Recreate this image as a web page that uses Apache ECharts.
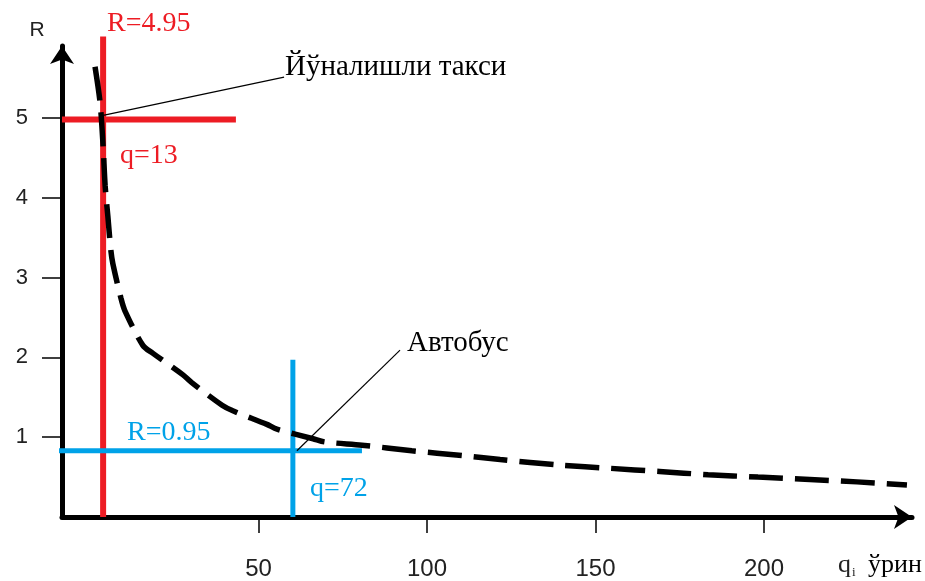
<!DOCTYPE html>
<html><head><meta charset="utf-8">
<script src="https://cdn.jsdelivr.net/npm/echarts@6/dist/echarts.min.js"></script>
<style>html,body{margin:0;padding:0;background:#fff}#c{width:925px;height:581px}</style>
</head><body><div id="c"></div>
<script>
// Curve R(q)
const curveQ = [1.5, 3.0, 3.9, 4.5, 5.3, 6.2, 6.8, 9.2, 10.4, 15.7, 18.7, 27.6, 30.3, 39.2, 42.4, 52.5, 55.5, 66.2, 69.7, 80.7, 95.5, 110.4, 121.7, 139.5, 154.3, 169, 183.4, 198.2, 213.6, 227.6, 242.4];
const curveR = [5.64, 5.19, 4.64, 4.15, 3.77, 3.34, 3.17, 2.74, 2.58, 2.15, 2.05, 1.78, 1.68, 1.40, 1.33, 1.16, 1.10, 0.98, 0.94, 0.90, 0.83, 0.77, 0.72, 0.65, 0.61, 0.57, 0.53, 0.50, 0.47, 0.44, 0.40];
const xTicks = [50, 100, 150, 200];
const yTicks = [1, 2, 3, 4, 5];
// Guide lines (as drawn)
const taxiVertical = [[3.9, 0], [3.9, 6.02]];
const taxiHorizontal = [[-8.3, 4.98], [43.3, 4.98]];
const busVertical = [[60.2, 0], [60.2, 1.97]];
const busHorizontal = [[-10.4, 0.83], [80.7, 0.83]];
const taxiLeader = [[3.9, 5.03], [57.6, 5.51]];
const busLeader = [[61.4, 0.83], [92, 2.09]];

const chart = echarts.init(document.getElementById('c'));
const RED = '#ed1c24', BLUE = '#00a2e8';
const serif = 'Liberation Serif';
function txt(t, x, y, size, color, family, align) {
  return { type: 'text', x: x, y: y, z: 100,
    style: { text: t, fontSize: size, fontFamily: family || serif, fill: color || '#000', align: align || 'left', verticalAlign: 'middle' } };
}
chart.setOption({
  animation: false,
  grid: { left: 62, right: 13, top: 46, bottom: 61 },
  xAxis: {
    type: 'value', min: -8.3, max: 243.9,
    splitLine: { show: false },
    axisLine: { show: true, onZero: false, symbol: ['none', 'arrow'], symbolSize: [18, 18], lineStyle: { color: '#000', width: 5 } },
    axisTick: { show: true, customValues: xTicks, length: 16, lineStyle: { color: '#000', width: 1.5 } },
    axisLabel: { customValues: xTicks, margin: 40, fontSize: 24, fontFamily: 'Liberation Sans', color: '#222' }
  },
  yAxis: {
    type: 'value', min: 0, max: 5.9,
    splitLine: { show: false },
    axisLine: { show: true, onZero: false, symbol: ['none', 'arrow'], symbolSize: [18, 18], lineStyle: { color: '#000', width: 5 } },
    axisTick: { show: true, customValues: yTicks, length: 20, lineStyle: { color: '#000', width: 1.5 } },
    axisLabel: { customValues: yTicks, margin: 34, fontSize: 22, fontFamily: 'Liberation Sans', color: '#222', verticalAlign: 'middle', padding: [0, 0, 16, 0] }
  },
  series: [
    { type: 'line', data: curveQ.map((q, i) => [q, curveR[i]]), showSymbol: false, smooth: 0.3, z: 3,
      lineStyle: { color: '#000', width: 5.5, type: [34, 12] } },
    { type: 'line', data: taxiVertical, showSymbol: false, clip: false, z: 2, lineStyle: { color: RED, width: 6 } },
    { type: 'line', data: taxiHorizontal, showSymbol: false, clip: false, z: 2, lineStyle: { color: RED, width: 6 } },
    { type: 'line', data: busVertical, showSymbol: false, clip: false, z: 2, lineStyle: { color: BLUE, width: 5 } },
    { type: 'line', data: busHorizontal, showSymbol: false, clip: false, z: 2, lineStyle: { color: BLUE, width: 5 } },
    { type: 'line', data: taxiLeader, showSymbol: false, clip: false, z: 4, lineStyle: { color: '#000', width: 1.2 } },
    { type: 'line', data: busLeader, showSymbol: false, clip: false, z: 4, lineStyle: { color: '#000', width: 1.2 } }
  ],
  graphic: [
    txt('R=4.95', 107, 24, 28, RED),
    txt('q=13', 120, 156, 28, RED),
    txt('Йўналишли такси', 285, 67, 29, '#000'),
    txt('Автобус', 407, 343, 29, '#000'),
    txt('R=0.95', 127, 433, 28, BLUE),
    txt('q=72', 310, 489, 28, BLUE),
    txt('R', 37, 30, 21, '#222', 'Liberation Sans', 'center'),
    txt('q', 838, 565, 26, '#222'),
    txt('i', 852, 573, 13, '#222'),
    txt('ўрин', 868, 565, 26, '#000')
  ]
});
</script></body></html>
